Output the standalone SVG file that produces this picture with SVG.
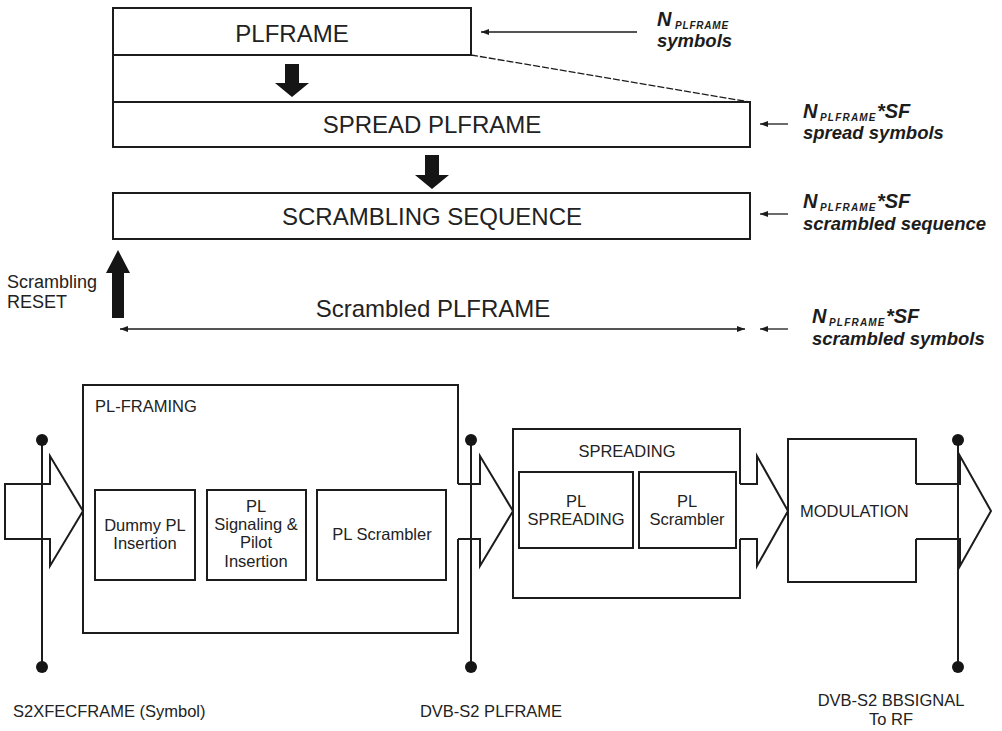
<svg xmlns="http://www.w3.org/2000/svg" width="1002" height="731" viewBox="0 0 1002 731">
<style>
.box{fill:none;stroke:#1c1c1c;stroke-width:2}
.thin{fill:none;stroke:#1c1c1c;stroke-width:1.3}
.fat{fill:#151515;stroke:none}
.t{font-family:"Liberation Sans",Arial,sans-serif;fill:#222}
.big{font-size:24px}
.sm{font-size:16.5px}
.mid{text-anchor:middle}
.lab{font-family:"Liberation Sans",Arial,sans-serif;font-weight:bold;font-style:italic;fill:#1c1c1c}
.n{font-size:20px}
.sub{font-size:10px}
.l2{font-size:18.5px}
.dot{fill:#151515}
</style>
<defs>
<marker id="ah" viewBox="0 0 8 6" refX="8" refY="3" markerWidth="8" markerHeight="6" markerUnits="userSpaceOnUse" orient="auto-start-reverse"><path d="M0,0 L8,3 L0,6 Z" fill="#1c1c1c"/></marker>
</defs>
<rect width="1002" height="731" fill="#fff"/>

<g id="connectors">
<line class="thin" x1="471" y1="55" x2="750" y2="102" stroke-dasharray="7,2"/>
<polygon class="fat" points="285,64 299,64 299,83 309,83 292,97 275,83 285,83"/>
<polygon class="fat" points="425,155 439,155 439,175 449,175 432,189 415,175 425,175"/>
<polygon class="fat" points="118,250 130,273 124,273 124,318 112,318 112,273 106,273"/>
<line class="thin" x1="637" y1="32" x2="481" y2="32" marker-end="url(#ah)"/>
<line class="thin" x1="788" y1="124" x2="760" y2="124" marker-end="url(#ah)"/>
<line class="thin" x1="788" y1="214" x2="760" y2="214" marker-end="url(#ah)"/>
<line class="thin" x1="788" y1="329" x2="760" y2="329" marker-end="url(#ah)"/>
<line class="thin" x1="120" y1="329" x2="745" y2="329" marker-start="url(#ah)" marker-end="url(#ah)"/>
<path class="box" d="M5,484 H50 V456 L83,511 L50,566 V539 H5 Z"/>
<path class="box" d="M458,484 H480 V456 L513,511 L480,566 V539 H458"/>
<path class="box" d="M740,484 H757 V456 L788,511 L757,566 V539 H740"/>
<path class="box" d="M916,484 H960 V456 L991,511 L960,566 V539 H916"/>
<line class="box" x1="42" y1="440" x2="42" y2="667"/>
<line class="box" x1="471" y1="440" x2="471" y2="667"/>
<line class="box" x1="958" y1="440" x2="958" y2="667"/>
<circle class="dot" cx="42" cy="440" r="6"/>
<circle class="dot" cx="42" cy="667" r="6"/>
<circle class="dot" cx="471" cy="440" r="6"/>
<circle class="dot" cx="471" cy="667" r="6"/>
<circle class="dot" cx="958" cy="440" r="6"/>
<circle class="dot" cx="958" cy="667" r="6"/>
</g>

<g id="plframe">
<path class="box" d="M113,147 V8 H471 V55 H113"/>
<text class="t big mid" x="292" y="42">PLFRAME</text>
</g>
<g id="spread-plframe">
<rect class="box" x="113" y="102" width="637" height="45"/>
<text class="t big mid" x="432" y="133">SPREAD PLFRAME</text>
</g>
<g id="scrambling-sequence">
<rect class="box" x="113" y="193" width="637" height="46"/>
<text class="t big mid" x="432" y="225">SCRAMBLING SEQUENCE</text>
</g>
<g id="scrambled-plframe">
<text class="t big mid" x="433" y="317">Scrambled PLFRAME</text>
</g>
<g id="scrambling-reset">
<text class="t" font-size="18" x="7" y="288">Scrambling</text>
<text class="t" font-size="18" x="7" y="308">RESET</text>
</g>

<g id="label-symbols">
<text class="lab n" x="657" y="26">N</text>
<text class="lab sub" x="675" y="29" letter-spacing="0.8">PLFRAME</text>
<text class="lab l2" x="657" y="47">symbols</text>
</g>
<g id="label-spread">
<text class="lab n" x="803" y="118">N</text>
<text class="lab sub" x="820" y="121" letter-spacing="1.2">PLFRAME</text>
<text class="lab n" x="877" y="118">*SF</text>
<text class="lab l2" x="803" y="139">spread symbols</text>
</g>
<g id="label-sequence">
<text class="lab n" x="803" y="208">N</text>
<text class="lab sub" x="820" y="211" letter-spacing="1.2">PLFRAME</text>
<text class="lab n" x="877" y="208">*SF</text>
<text class="lab l2" x="803" y="230">scrambled sequence</text>
</g>
<g id="label-scrambled">
<text class="lab n" x="812" y="323">N</text>
<text class="lab sub" x="829" y="326" letter-spacing="1.2">PLFRAME</text>
<text class="lab n" x="886" y="323">*SF</text>
<text class="lab l2" x="812" y="345">scrambled symbols</text>
</g>

<g id="pl-framing">
<path class="box" d="M458,484 V385 H83 V633 H458 V539"/>
<text class="t sm" x="95" y="412">PL-FRAMING</text>
</g>
<g id="dummy-pl">
<rect class="box" x="95" y="490" width="100" height="90"/>
<text class="t sm mid" x="145" y="531">Dummy PL</text>
<text class="t sm mid" x="145" y="549">Insertion</text>
</g>
<g id="pl-signaling">
<rect class="box" x="207" y="490" width="99" height="90"/>
<text class="t sm mid" x="256" y="512">PL</text>
<text class="t sm mid" x="256" y="530">Signaling &amp;</text>
<text class="t sm mid" x="256" y="548">Pilot</text>
<text class="t sm mid" x="256" y="567">Insertion</text>
</g>
<g id="pl-scrambler-1">
<rect class="box" x="317" y="490" width="129" height="90"/>
<text class="t sm mid" x="382" y="540">PL Scrambler</text>
</g>

<g id="spreading">
<path class="box" d="M740,484 V429 H513 V598 H740 V539"/>
<text class="t sm mid" x="627" y="457">SPREADING</text>
</g>
<g id="pl-spreading">
<rect class="box" x="519" y="472" width="114" height="76"/>
<text class="t sm mid" x="576" y="507">PL</text>
<text class="t sm mid" x="576" y="525">SPREADING</text>
</g>
<g id="pl-scrambler-2">
<rect class="box" x="639" y="472" width="97" height="76"/>
<text class="t sm mid" x="687" y="507">PL</text>
<text class="t sm mid" x="687" y="525">Scrambler</text>
</g>
<g id="modulation">
<path class="box" d="M916,484 V439 H788 V582 H916 V539"/>
<text class="t sm" x="800" y="517">MODULATION</text>
</g>

<g id="bottom-labels">
<text class="t sm" x="13" y="717">S2XFECFRAME (Symbol)</text>
<text class="t sm mid" x="491" y="717">DVB-S2 PLFRAME</text>
<text class="t sm mid" x="891" y="706">DVB-S2 BBSIGNAL</text>
<text class="t sm mid" x="891" y="725">To RF</text>
</g>
</svg>
